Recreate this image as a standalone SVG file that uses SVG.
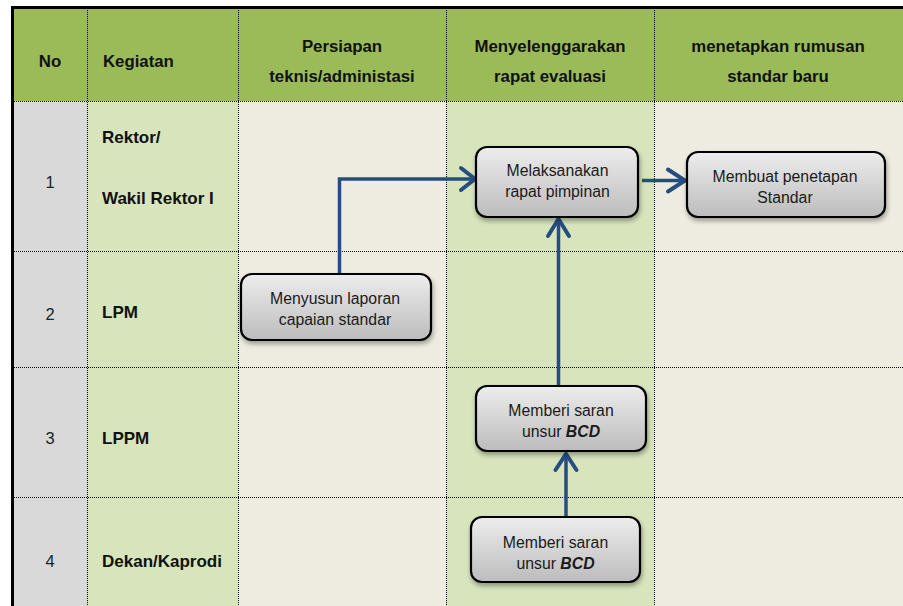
<svg xmlns="http://www.w3.org/2000/svg" width="903" height="606" viewBox="0 0 903 606">
<defs>
<linearGradient id="bx" x1="0" y1="0" x2="0" y2="1">
<stop offset="0" stop-color="#EDEDED"/>
<stop offset="1" stop-color="#BCBCBC"/>
</linearGradient>
<filter id="sh" x="-10%" y="-10%" width="130%" height="140%">
<feGaussianBlur in="SourceAlpha" stdDeviation="2.5"/>
<feOffset dx="1" dy="3" result="o"/>
<feComponentTransfer><feFuncA type="linear" slope="0.35"/></feComponentTransfer>
<feMerge><feMergeNode/><feMergeNode in="SourceGraphic"/></feMerge>
</filter>
</defs>
<style>
.hd{font-family:"Liberation Sans",Arial,sans-serif;font-weight:bold;font-size:16.8px;fill:#111;}
.lb{font-family:"Liberation Sans",Arial,sans-serif;font-weight:bold;font-size:17px;fill:#111;}
.nm{font-family:"Liberation Sans",Arial,sans-serif;font-size:16.5px;fill:#222;}
.nt{font-family:"Liberation Sans",Arial,sans-serif;font-size:15.8px;fill:#1a1a1a;}
.grid{stroke:#000;stroke-width:1;stroke-dasharray:1,1;fill:none;}
.box{fill:url(#bx);stroke:#000;stroke-width:2.2;filter:url(#sh);}
.cn{fill:none;stroke:#254E80;stroke-width:3.5;}
.ah{fill:none;stroke:#254E80;stroke-width:4;stroke-linecap:round;stroke-linejoin:miter;}
</style>
<rect width="903" height="606" fill="#fff"/>
<!-- columns -->
<rect x="12" y="8" width="891" height="598" fill="#EEECE1"/>
<rect x="12" y="101" width="75" height="505" fill="#D9D9D9"/>
<rect x="87" y="101" width="151" height="505" fill="#D7E4BC"/>
<rect x="446" y="101" width="208" height="505" fill="#D7E4BC"/>
<rect x="12" y="8" width="891" height="93" fill="#9BBB59"/>
<!-- grid -->
<g class="grid">
<line x1="87.5" y1="8" x2="87.5" y2="606"/>
<line x1="238.5" y1="8" x2="238.5" y2="606"/>
<line x1="446.5" y1="8" x2="446.5" y2="606"/>
<line x1="654.5" y1="8" x2="654.5" y2="606"/>
<line x1="12" y1="101.5" x2="903" y2="101.5"/>
<line x1="12" y1="251.5" x2="903" y2="251.5"/>
<line x1="12" y1="367.5" x2="903" y2="367.5"/>
<line x1="12" y1="497.5" x2="903" y2="497.5"/>
</g>
<path d="M12.5,606 V7.5 H903" fill="none" stroke="#000" stroke-width="3"/>
<!-- header -->
<g id="header">
<text class="hd" x="50" y="67" text-anchor="middle">No</text>
<text class="hd" x="103" y="67">Kegiatan</text>
<text class="hd" x="342" y="52" text-anchor="middle">Persiapan</text>
<text class="hd" x="342" y="82" text-anchor="middle">teknis/administasi</text>
<text class="hd" x="550" y="52" text-anchor="middle">Menyelenggarakan</text>
<text class="hd" x="550" y="82" text-anchor="middle">rapat evaluasi</text>
<text class="hd" x="778" y="52" text-anchor="middle">menetapkan rumusan</text>
<text class="hd" x="778" y="82" text-anchor="middle">standar baru</text>
</g>
<!-- row labels -->
<g id="rows">
<text class="nm" x="50" y="188" text-anchor="middle">1</text>
<text class="lb" x="102" y="143">Rektor/</text>
<text class="lb" x="102" y="204">Wakil Rektor I</text>
<text class="nm" x="50" y="320" text-anchor="middle">2</text>
<text class="lb" x="102" y="318">LPM</text>
<text class="nm" x="50" y="444" text-anchor="middle">3</text>
<text class="lb" x="102" y="444">LPPM</text>
<text class="nm" x="50" y="567" text-anchor="middle">4</text>
<text class="lb" x="102" y="567">Dekan/Kaprodi</text>
</g>
<!-- connectors -->
<g id="connectors">
<path class="cn" d="M339.5,274 V179 H474"/>
<path class="ah" d="M461,168 L475,179 L461,190"/>
<path class="cn" d="M642,180.5 H685"/>
<path class="ah" d="M668,169.5 L685,180.5 L668,191.5"/>
<path class="cn" d="M558.5,386 V220"/>
<path class="ah" d="M548,236 L558.5,219 L569,236"/>
<path class="cn" d="M566,517 V455"/>
<path class="ah" d="M555.5,470 L566,454 L576.5,470"/>
</g>
<!-- nodes -->
<g id="n_melaksanakan">
<rect class="box" x="476" y="147" width="162" height="70" rx="11"/>
<text class="nt" x="557.5" y="176" text-anchor="middle">Melaksanakan</text>
<text class="nt" x="557.5" y="197" text-anchor="middle">rapat pimpinan</text>
</g>
<g id="n_membuat">
<rect class="box" x="687" y="152" width="198" height="65" rx="11"/>
<text class="nt" x="785" y="182" text-anchor="middle">Membuat penetapan</text>
<text class="nt" x="785" y="203" text-anchor="middle">Standar</text>
</g>
<g id="n_menyusun">
<rect class="box" x="241" y="274" width="190" height="66" rx="11"/>
<text class="nt" x="335" y="304" text-anchor="middle">Menyusun laporan</text>
<text class="nt" x="335" y="325" text-anchor="middle">capaian standar</text>
</g>
<g id="n_lppm">
<rect class="box" x="476" y="386" width="170" height="65" rx="11"/>
<text class="nt" x="561" y="416" text-anchor="middle">Memberi saran</text>
<text class="nt" x="561" y="437" text-anchor="middle">unsur <tspan font-weight="bold" font-style="italic">BCD</tspan></text>
</g>
<g id="n_dekan">
<rect class="box" x="471" y="517" width="169" height="65" rx="11"/>
<text class="nt" x="555.5" y="548" text-anchor="middle">Memberi saran</text>
<text class="nt" x="555.5" y="569" text-anchor="middle">unsur <tspan font-weight="bold" font-style="italic">BCD</tspan></text>
</g>
</svg>
